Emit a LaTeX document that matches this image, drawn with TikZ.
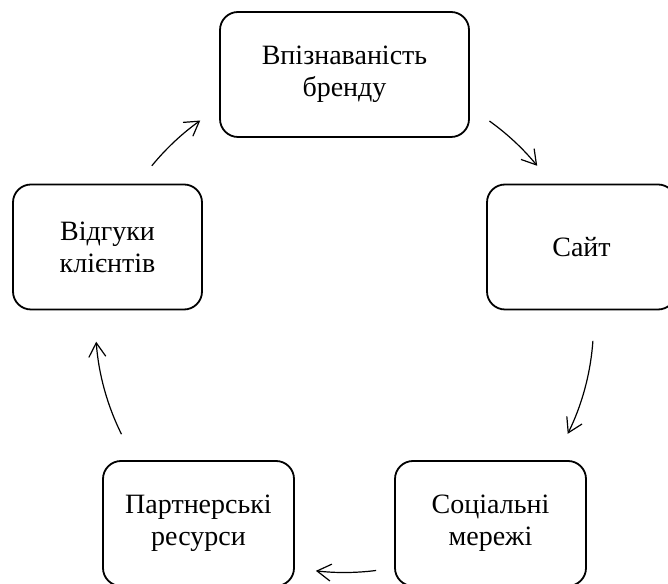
\documentclass[tikz,border=0pt]{standalone}
\usepackage{fontspec}
\setmainfont{Liberation Serif}
\usetikzlibrary{arrows.meta}
\begin{document}
\begin{tikzpicture}[x=1pt,y=1pt,
  box/.style={draw, line width=1.8pt, rounded corners=18pt, minimum height=125pt,
    align=center, font=\fontsize{28}{32}\selectfont, inner sep=0pt},
  arr/.style={line width=1.2pt, -{Straight Barb[length=14pt,width=17pt]}}]
\useasboundingbox (0,0) rectangle (668,583);
% boxes
\node[box, minimum width=249pt] (brand) at (344.5,508.5) {Впізнаваність\\бренду};
\node[box, minimum width=189pt] (site) at (581.5,336) {Сайт};
\node[box, minimum width=191pt] (social) at (490.5,59.5) {Соціальні\\мережі};
\node[box, minimum width=191pt] (partner) at (198.5,59.5) {Партнерські\\ресурси};
\node[box, minimum width=189pt] (reviews) at (107.5,336) {Відгуки\\клієнтів};
% cycle centre and arc starts
\coordinate (ctr) at (344.5,259.5);
\coordinate (s1) at ([shift={(54.4:249pt)}]ctr);
\coordinate (s2) at ([shift={(-4.0:249pt)}]ctr);
\coordinate (s3) at ([shift={(-82.7:249pt)}]ctr);
\coordinate (s4) at ([shift={(-153.6:249pt)}]ctr);
\coordinate (s5) at ([shift={(140.7:249pt)}]ctr);
% connectors
\draw[arr] (s1) arc[start angle=54.4, end angle=39.3, radius=249pt];
\draw[arr] (s2) arc[start angle=-4.0, end angle=-26.3, radius=249pt];
\draw[arr] (s3) arc[start angle=-82.7, end angle=-96.6, radius=249pt];
\draw[arr] (s4) arc[start angle=-153.6, end angle=-175.8, radius=249pt];
\draw[arr] (s5) arc[start angle=140.7, end angle=125.4, radius=249pt];
\end{tikzpicture}
\end{document}
